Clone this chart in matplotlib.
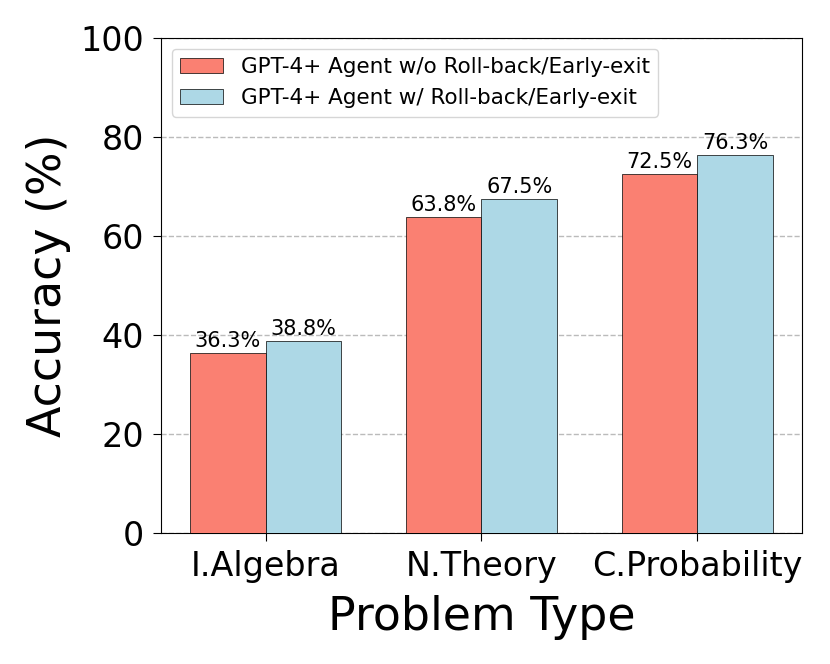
import numpy as np
import matplotlib.pyplot as plt

categories = ['I.Algebra', 'N.Theory', 'C.Probability']
wo_rollback = [36.3, 63.8, 72.5]
w_rollback = [38.8, 67.5, 76.3]
labels = ['GPT-4+ Agent w/o Roll-back/Early-exit', 'GPT-4+ Agent w/ Roll-back/Early-exit']

red = '#FA8072'
blue = '#ADD8E6'

fig, ax = plt.subplots(figsize=(8.3, 6.64), dpi=100)
fig.subplots_adjust(left=0.194, right=0.966, top=0.943, bottom=0.197)

x = np.arange(len(categories))
w = 0.35
b1 = ax.bar(x - w/2, wo_rollback, w, color=red, edgecolor='black', linewidth=0.5, label=labels[0], zorder=3)
b2 = ax.bar(x + w/2, w_rollback, w, color=blue, edgecolor='black', linewidth=0.5, label=labels[1], zorder=3)

for bars in (b1, b2):
    for r in bars:
        ax.text(r.get_x() + r.get_width()/2, r.get_height() + 0.4, f'{r.get_height():.1f}%',
                ha='center', va='bottom', fontsize=15)

ax.set_ylim(0, 100)
ax.set_xticks(x)
ax.set_xticklabels(categories, fontsize=24)
ax.tick_params(axis='y', labelsize=24)
ax.tick_params(length=6, pad=6)
ax.set_ylabel('Accuracy (%)', fontsize=33, labelpad=7)
ax.set_xlabel('Problem Type', fontsize=33, labelpad=9)
ax.yaxis.grid(True, linestyle='--', color='#bbbbbb', linewidth=1, zorder=0)
ax.set_axisbelow(True)
ax.legend(loc='upper left', fontsize=15.5)

fig.savefig('out.png', dpi=100)
